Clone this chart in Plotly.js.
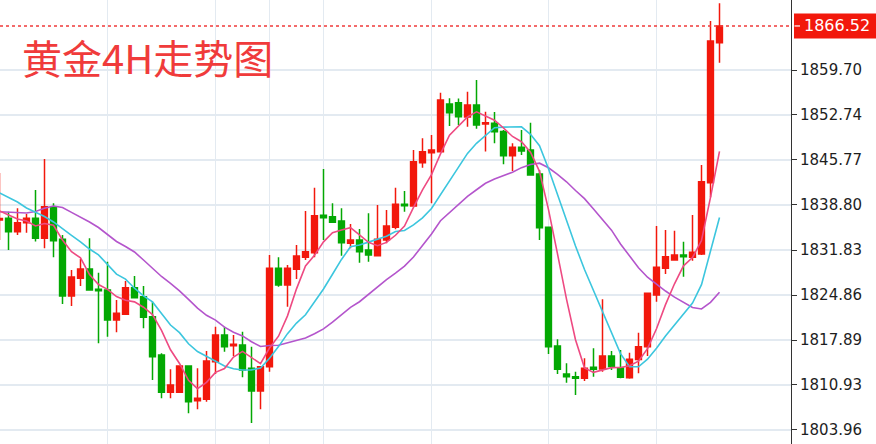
<!DOCTYPE html>
<html>
<head>
<meta charset="utf-8">
<script src="https://cdn.plot.ly/plotly-3.0.1.min.js"></script>
<style>html,body{margin:0;padding:0;background:#fff;}#chart{width:876px;height:444px;}</style>
</head>
<body>
<div id="chart"></div>
<script>
const chartTitle = '黄金4H走势图';
const lastPrice = 1866.52;
const lastPriceText = '1866.52';

const open = [1836.47,1836.74,1834.66,1836.06,1836.74,1833.64,1838.44,1833.49,1824.71,1827.45,
1828.89,1825.75,1825.64,1820.99,1821.87,1825.99,1824.60,1821.50,1815.57,1809.80,
1809.80,1813.87,1808.50,1808.71,1814.54,1818.67,1817.01,1817.12,1813.51,1810.00,
1813.76,1829.00,1826.41,1828.84,1830.70,1831.41,1837.20,1836.99,1836.32,1832.87,
1833.38,1831.83,1830.95,1833.38,1835.34,1838.91,1838.64,1845.35,1846.90,1847.05,
1854.44,1854.64,1852.42,1854.28,1851.34,1851.45,1850.18,1846.43,1847.73,1847.31,
1843.60,1835.34,1816.97,1812.63,1812.21,1811.97,1813.67,1813.41,1815.42,1813.56,
1812.04,1814.88,1816.86,1824.86,1829.00,1830.28,1831.06,1830.70,1831.21,1842.25,
1863.93];

const high = [1843.75,1837.76,1838.29,1837.40,1841.12,1845.92,1839.06,1834.15,1828.73,1830.44,
1833.64,1828.32,1830.02,1824.09,1827.03,1827.80,1826.26,1823.83,1815.84,1813.36,
1813.95,1813.92,1813.51,1816.19,1819.95,1819.95,1818.67,1819.18,1816.86,1813.87,
1831.06,1830.70,1829.51,1832.60,1837.87,1841.48,1844.37,1839.06,1838.29,1835.86,
1835.08,1837.51,1838.80,1838.02,1841.48,1840.97,1847.31,1849.12,1849.64,1856.19,
1855.32,1855.29,1856.34,1858.15,1853.24,1853.20,1850.41,1848.35,1850.41,1851.54,
1844.22,1835.39,1818.00,1814.29,1812.99,1815.06,1816.61,1824.20,1816.19,1816.35,
1815.93,1819.02,1825.17,1835.55,1834.93,1834.82,1833.12,1837.25,1844.99,1867.29,
1870.03];

const low = [1833.38,1831.83,1834.15,1834.51,1833.15,1832.09,1830.70,1823.47,1823.16,1826.26,
1825.56,1817.38,1818.41,1819.09,1821.84,1824.35,1819.71,1811.70,1808.87,1808.87,
1809.74,1806.55,1807.17,1808.34,1812.63,1816.08,1815.42,1812.12,1805.04,1807.17,
1812.99,1826.15,1823.05,1827.34,1830.28,1830.70,1833.38,1836.06,1830.95,1832.09,
1829.86,1830.02,1830.90,1832.87,1835.03,1837.76,1838.60,1844.57,1839.06,1847.00,
1851.03,1851.18,1850.92,1850.61,1847.08,1848.35,1845.10,1844.06,1846.54,1843.40,
1833.38,1815.73,1812.63,1811.28,1809.38,1811.55,1812.21,1812.99,1813.25,1811.97,
1811.89,1812.74,1815.42,1823.83,1828.11,1830.17,1827.70,1830.17,1831.06,1839.99,
1860.83];

const close = [1836.71,1834.66,1836.06,1836.74,1833.64,1838.53,1833.27,1824.71,1827.65,1828.89,
1825.64,1825.53,1820.99,1822.03,1825.99,1824.44,1821.41,1815.31,1809.80,1810.93,
1813.87,1808.34,1808.87,1814.64,1818.67,1816.86,1817.23,1813.25,1810.00,1813.76,
1829.00,1826.41,1829.00,1830.90,1831.57,1837.14,1836.83,1836.12,1832.96,1833.38,
1831.57,1831.06,1833.49,1835.55,1838.91,1838.69,1845.50,1847.05,1847.31,1855.05,
1853.09,1852.47,1854.28,1851.18,1851.54,1850.15,1846.43,1847.73,1847.16,1843.44,
1835.28,1816.86,1813.36,1812.21,1811.97,1813.51,1813.36,1815.42,1813.79,1812.12,
1814.91,1816.86,1825.13,1829.15,1830.79,1831.06,1830.79,1831.47,1842.41,1864.19,
1866.52];

const ma5 = [1837.87,1837.25,1836.63,1836.32,1835.56,1835.93,1835.65,1833.38,1831.56,1830.61,
1828.03,1826.48,1825.74,1824.62,1824.04,1823.80,1822.97,1821.84,1819.39,1816.38,
1814.26,1811.65,1810.36,1811.33,1812.88,1813.48,1815.25,1816.13,1815.20,1814.22,
1816.65,1818.48,1821.63,1825.81,1829.37,1831.00,1833.09,1834.51,1834.92,1835.29,
1834.17,1833.02,1832.49,1833.01,1834.11,1835.54,1838.43,1841.14,1843.49,1846.72,
1849.60,1851.00,1852.44,1853.22,1852.51,1851.92,1850.72,1849.41,1848.60,1846.98,
1844.01,1838.09,1831.22,1824.23,1817.94,1813.58,1812.88,1813.29,1813.61,1813.64,
1813.92,1814.62,1816.56,1819.63,1823.37,1826.60,1829.38,1830.65,1833.30,1839.98,
1847.10];

const ma10 = [1840.66,1839.96,1839.26,1838.33,1837.64,1837.02,1836.17,1835.08,1834.08,1833.09,
1831.98,1831.07,1829.56,1828.09,1827.32,1825.91,1824.73,1823.79,1822.00,1820.21,
1819.03,1817.31,1816.10,1815.36,1814.63,1813.87,1813.45,1813.25,1813.27,1813.55,
1815.06,1816.87,1818.88,1820.51,1821.80,1823.83,1825.79,1828.07,1830.37,1832.33,
1832.59,1833.05,1833.50,1833.97,1834.70,1834.85,1835.72,1836.81,1838.25,1840.42,
1842.57,1844.71,1846.79,1848.35,1849.62,1850.76,1850.86,1850.92,1850.91,1849.75,
1847.97,1844.41,1840.31,1836.42,1832.46,1828.80,1825.49,1822.26,1818.92,1815.79,
1813.75,1813.75,1814.93,1816.62,1818.50,1820.26,1822.00,1823.61,1826.47,1831.68,
1836.85];

const ma20 = [1837.76,1837.68,1837.56,1837.56,1837.79,1838.30,1838.64,1838.41,1837.65,1836.94,
1836.17,1835.31,1834.23,1833.15,1832.37,1831.52,1830.28,1828.97,1827.73,1826.65,
1825.50,1824.19,1822.83,1821.72,1820.98,1819.89,1819.09,1818.52,1817.63,1816.88,
1817.05,1817.09,1817.49,1817.93,1818.21,1818.85,1819.62,1820.66,1821.82,1822.94,
1823.82,1824.96,1826.19,1827.24,1828.25,1829.34,1830.75,1832.44,1834.31,1836.37,
1837.58,1838.88,1840.14,1841.16,1842.16,1842.81,1843.29,1843.87,1844.58,1845.08,
1845.27,1844.56,1843.55,1842.39,1841.04,1839.78,1838.17,1836.59,1834.91,1832.77,
1830.86,1829.08,1827.62,1826.52,1825.48,1824.53,1823.74,1822.93,1822.70,1823.73,
1825.30];

const yTickVals = [1803.96,1810.93,1817.89,1824.86,1831.83,1838.80,1845.77,1852.74,1859.70];
const yTickText = ['1803.96','1810.93','1817.89','1824.86','1831.83','1838.80','1845.77','1852.74','1859.70'];

// ----- presentation -----
const RED = '#f2180c';
const GREEN = '#03a803';
const GRID = '#e3eaf1';
const W = 876, H = 444;
const M = {l: 0, r: 85, t: 0, b: 0};
const plotW = W - M.l - M.r;
const yRange = [1801.79, 1870.54];
const xRange = [0.0556, 0.0556 + plotW / 9];
const idx = close.map((_, i) => i);
const toPaperY = v => (v - yRange[0]) / (yRange[1] - yRange[0]);
const px2paperX = p => p / plotW;
const px2paperY = p => p / H;

const traces = [
  {
    type: 'candlestick', x: idx, open: open, high: high, low: low, close: close,
    increasing: {line: {color: RED, width: 1.5}, fillcolor: RED},
    decreasing: {line: {color: GREEN, width: 1.5}, fillcolor: GREEN},
    whiskerwidth: 0, hoverinfo: 'skip', showlegend: false
  },
  {type: 'scatter', mode: 'lines', x: idx, y: ma20, line: {color: '#b455cc', width: 1.6}, hoverinfo: 'skip', showlegend: false},
  {type: 'scatter', mode: 'lines', x: idx, y: ma10, line: {color: '#3cc6de', width: 1.6}, hoverinfo: 'skip', showlegend: false},
  {type: 'scatter', mode: 'lines', x: idx, y: ma5, line: {color: '#ee4a82', width: 1.6}, hoverinfo: 'skip', showlegend: false}
];

const lpY = toPaperY(lastPrice);
const layout = {
  width: W, height: H, autosize: false,
  margin: M,
  paper_bgcolor: '#ffffff', plot_bgcolor: '#ffffff',
  showlegend: false,
  boxgap: 0.35, boxgroupgap: 0,
  font: {family: 'DejaVu Sans', size: 15, color: '#1e1e1e'},
  xaxis: {
    range: xRange, fixedrange: true,
    rangeslider: {visible: false},
    showticklabels: false, ticks: '',
    tickmode: 'array', tickvals: [12, 24, 30, 36, 48, 61, 73],
    showgrid: true, gridcolor: GRID, gridwidth: 1.5,
    zeroline: false, showline: false
  },
  yaxis: {
    side: 'right', range: yRange, fixedrange: true,
    tickmode: 'array', tickvals: yTickVals, ticktext: yTickText,
    ticks: 'outside', ticklen: 5, tickwidth: 1, tickcolor: '#333333',
    tickfont: {family: 'DejaVu Sans', size: 15, color: '#1e1e1e'},
    showgrid: true, gridcolor: GRID, gridwidth: 1.5,
    zeroline: false, showline: true, linecolor: '#333333', linewidth: 1
  },
  shapes: [
    {type: 'line', xref: 'paper', yref: 'paper', x0: 0, x1: 1, y0: lpY, y1: lpY,
     line: {color: '#f03a3a', width: 1.5, dash: 'dot'}},
    {type: 'rect', xref: 'paper', yref: 'paper', x0: 1 + px2paperX(3), x1: 1 + px2paperX(86),
     y0: lpY - px2paperY(12.5), y1: lpY + px2paperY(12.5), fillcolor: RED, line: {width: 0}},
    {type: 'line', xref: 'paper', yref: 'paper', x0: 1 + px2paperX(3.5), x1: 1 + px2paperX(9),
     y0: lpY, y1: lpY, line: {color: '#ffffff', width: 1.2}}
  ],
  annotations: [
    {text: lastPriceText, xref: 'paper', yref: 'paper', x: 1 + px2paperX(11), y: lpY,
     xanchor: 'left', yanchor: 'middle', showarrow: false,
     font: {family: 'DejaVu Sans', size: 16, color: '#ffffff'}},
    {text: chartTitle, xref: 'paper', yref: 'paper', x: px2paperX(20), y: 1 - px2paperY(57),
     xanchor: 'left', yanchor: 'middle', showarrow: false,
     font: {family: 'Noto Sans CJK SC', size: 40, color: '#f03b3b'}}
  ]
};

Plotly.newPlot('chart', traces, layout, {displayModeBar: false, staticPlot: true});
</script>
</body>
</html>
